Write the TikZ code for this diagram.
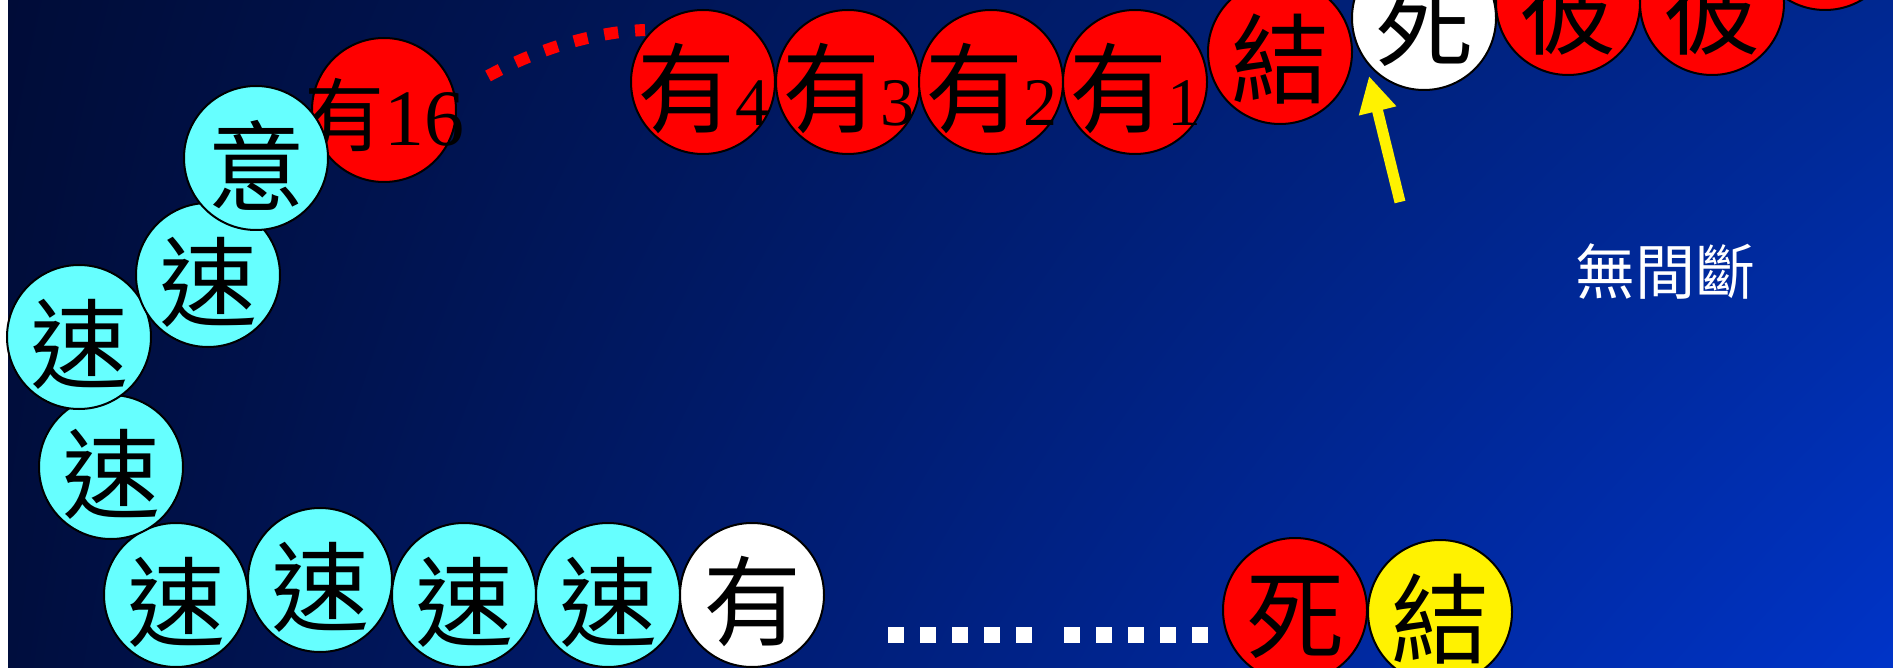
\documentclass[tikz,border=0pt]{standalone}
\usepackage{fontspec}
\setmainfont{Liberation Serif}
\newfontfamily\cjkfont{Noto Sans CJK TC}
\usetikzlibrary{arrows.meta,calc,shadings}
\definecolor{cyanball}{RGB}{102,255,255}
\definecolor{bgUL}{RGB}{0,12,56}
\definecolor{bgLL}{RGB}{0,14,62}
\definecolor{bgUR}{RGB}{0,40,145}
\definecolor{bgLR}{RGB}{0,52,200}
\newcommand\youn[1]{有{\rmfamily\fontsize{68}{68}\selectfont #1}}
\tikzset{
  ball/.style={circle, draw=black, line width=2pt, minimum size=144pt, inner sep=0pt, outer sep=0pt},
  cyb/.style={ball, fill=cyanball},
  rdb/.style={ball, fill=red},
  whb/.style={ball, fill=white},
  ylb/.style={ball, fill=yellow},
  big/.style={font=\cjkfont\fontsize{98}{98}\selectfont, text=black, inner sep=0pt, yshift=-7pt},
  mid/.style={font=\cjkfont\fontsize{80}{80}\selectfont, text=black, inner sep=0pt, yshift=-5pt},
  reddots/.style={draw=red, line width=12pt, dash pattern=on 14pt off 17pt},
  whitedots/.style={draw=white, line width=16pt, dash pattern=on 16pt off 16pt},
  yarrow/.style={draw=yellow, line width=11pt, -{Triangle[width=36pt,length=36pt]}},
  note/.style={font=\cjkfont\fontsize{60}{60}\selectfont, text=white, inner sep=0pt}
}
\begin{document}
\begin{tikzpicture}[x=1pt,y=-1pt]
\fill[white] (0,0) rectangle (1893,668);
\useasboundingbox (0,0) rectangle (1893,668);
\clip (0,0) rectangle (1893,668);
\shade[upper left=bgUL, lower left=bgLL, upper right=bgUR, lower right=bgLR] (8,0) rectangle (1893,668);

% dotted red arc
\coordinate (ra) at (488,76);
\coordinate (rb) at (645,30);
\draw[reddots] (ra) .. controls (540,48) and (595,32) .. (rb);

% bottom row
\node[cyb, label={[big]center:速}] (s1) at (176,595) {};
\node[cyb, label={[big]center:速}] (s2) at (320,580) {};
\node[cyb, label={[big]center:速}] (s3) at (464,595) {};
\node[cyb, label={[big]center:速}] (s4) at (608,595) {};
\node[whb, label={[big]center:有}] (yb) at (752,595) {};

% left column
\node[cyb, label={[big]center:速}] (l1) at (111,467) {};
\node[cyb, label={[big]center:速}] (l2) at (79,337) {};
\node[cyb, label={[big]center:速}] (l3) at (208,275) {};
\node[rdb, label={[mid]center:{有{\rmfamily\fontsize{80}{80}\selectfont 16}}}] (y16) at (384,110) {};
\node[cyb, label={[big]center:意}] (yi) at (256,158) {};

% top row
\node[rdb, label={[big]center:{\youn{4}}}] (y4) at (703,82) {};
\node[rdb, label={[big]center:{\youn{3}}}] (y3) at (848,82) {};
\node[rdb, label={[big]center:{\youn{2}}}] (y2) at (991,82) {};
\node[rdb, label={[big]center:{\youn{1}}}] (y1) at (1135,82) {};
\node[rdb, label={[big]center:結}] (jt) at (1280,52) {};
\node[whb, label={[big]center:死}] (dt) at (1424,18) {};
\node[rdb] (rx) at (1825,-62) {};
\node[rdb, label={[big]center:彼}] (b1) at (1568,3) {};
\node[rdb, label={[big]center:彼}] (b2) at (1712,3) {};

% bottom right
\node[rdb, label={[big]center:死}] (db) at (1295,610) {};
\node[ylb, label={[big]center:結}] (jb) at (1440,612) {};

% white dotted gap
\coordinate (wa) at (888,635);
\coordinate (wb) at (1032,635);
\coordinate (wc) at (1064,635);
\coordinate (wd) at (1208,635);
\draw[whitedots] (wa) -- (wb);
\draw[whitedots] (wc) -- (wd);

% yellow arrow
\coordinate (atail) at (1400,202);
\coordinate (atip) at ($(dt)+(-55,58)$);
\draw[yarrow] (atail) -- (atip);

\node[note] (wjd) at (1665,272) {無間斷};
\end{tikzpicture}
\end{document}
